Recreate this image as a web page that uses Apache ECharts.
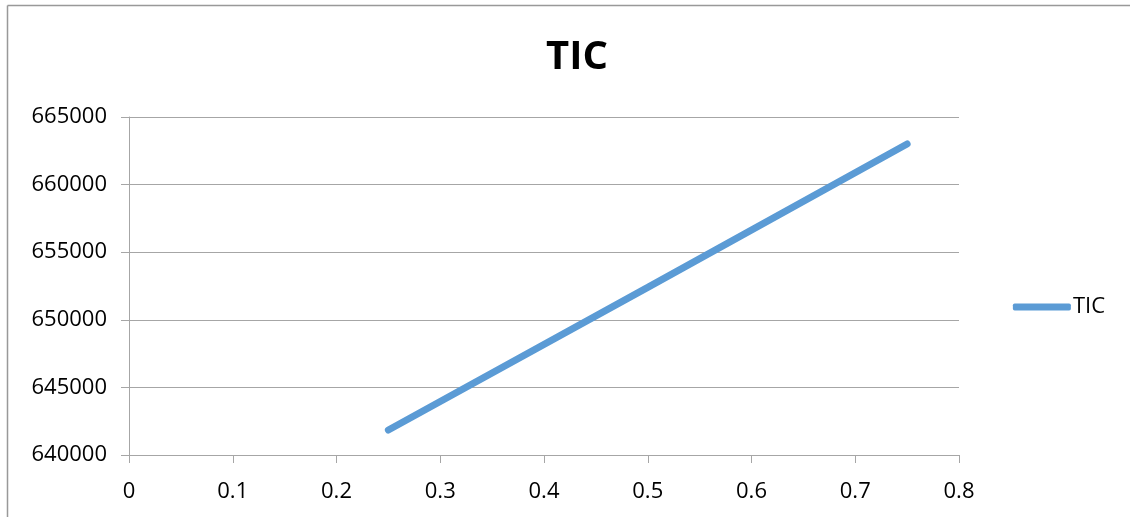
<!DOCTYPE html>
<html>
<head>
<meta charset="utf-8">
<script src="https://cdn.jsdelivr.net/npm/echarts@6/dist/echarts.min.js"></script>
<style>
  html, body { margin: 0; padding: 0; background: #fff; }
  #chart { width: 1130px; height: 517px; }
</style>
</head>
<body>
<div id="chart"></div>
<script>
const xValues = [0.25, 0.5, 0.75];
const ticValues = [641850, 652400, 663000];
const seriesName = 'TIC';

const chart = echarts.init(document.getElementById('chart'));
const axisGray = '#a6a6a6';
const fontFam = '"Open Sans", "Liberation Sans", sans-serif';

chart.setOption({
  animation: false,
  title: {
    text: 'TIC',
    left: 541,
    top: 33,
    textStyle: { fontSize: 40, fontWeight: 'bold', color: '#000', fontFamily: fontFam }
  },
  graphic: [
    { type: 'line', shape: { x1: 7.5, y1: 5.5, x2: 1130, y2: 5.5 }, style: { stroke: '#999', lineWidth: 1.5 } },
    { type: 'line', shape: { x1: 7.5, y1: 5.5, x2: 7.5, y2: 517 }, style: { stroke: '#999', lineWidth: 1.5 } }
  ],
  legend: {
    right: 20,
    top: 291,
    orient: 'vertical',
    data: [{ name: seriesName, icon: 'roundRect' }],
    itemWidth: 58,
    itemHeight: 7,
    itemGap: 4,
    textStyle: { fontSize: 22, color: '#000', fontFamily: fontFam, padding: [0, 0, 0, -3] }
  },
  grid: { left: 129, right: 171, top: 117, bottom: 62, containLabel: false },
  xAxis: {
    type: 'value',
    min: 0,
    max: 0.8,
    interval: 0.1,
    axisLine: { show: true, lineStyle: { color: axisGray } },
    axisTick: { show: true, length: 8, lineStyle: { color: axisGray } },
    splitLine: { show: false },
    axisLabel: { fontSize: 22, color: '#000', fontFamily: fontFam, margin: 26 }
  },
  yAxis: {
    type: 'value',
    min: 640000,
    max: 665000,
    interval: 5000,
    axisLine: { show: true, lineStyle: { color: axisGray } },
    axisTick: { show: true, length: 8, lineStyle: { color: axisGray } },
    splitLine: { show: true, lineStyle: { color: axisGray } },
    axisLabel: { fontSize: 22, color: '#000', fontFamily: fontFam, margin: 22, formatter: v => String(v) }
  },
  series: [{
    name: seriesName,
    type: 'line',
    data: xValues.map((x, i) => [x, ticValues[i]]),
    symbol: 'none',
    lineStyle: { width: 7, color: '#5b9bd5', cap: 'round' },
    itemStyle: { color: '#5b9bd5' }
  }]
});
</script>
</body>
</html>
